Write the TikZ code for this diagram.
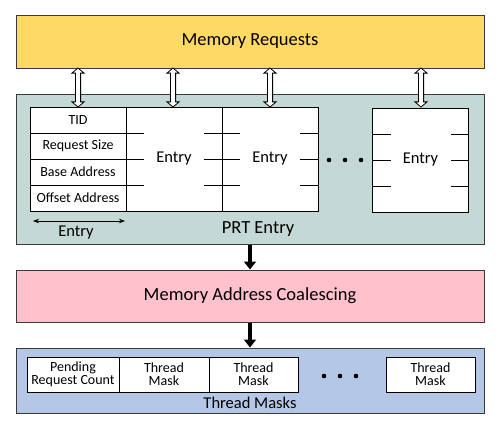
\documentclass[tikz,border=0pt]{standalone}
\usepackage{fontspec}
\setmainfont{Carlito}
\usetikzlibrary{arrows.meta,shapes.arrows}

\definecolor{reqyellow}{HTML}{FFD966}
\definecolor{prtgray}{HTML}{C4D8D6}
\definecolor{coalpink}{HTML}{FFC2CD}
\definecolor{maskblue}{HTML}{B4C7E7}
\definecolor{edge}{HTML}{3A3A3A}

\tikzset{
    blk/.style={draw=edge, line width=1pt, minimum width=468pt, inner sep=0pt},
    cell/.style={draw=black, line width=0.9pt, fill=white, inner sep=0pt},
    bigtxt/.style={font=\fontsize{18.5}{20}\selectfont},
    midtxt/.style={font=\fontsize{16.5}{18}\selectfont},
    smalltxt/.style={font=\fontsize{14}{14}\selectfont, align=center},
    dblarr/.style={double arrow, draw=black, line width=0.8pt, fill=white, rotate=90,
        minimum height=39pt, inner sep=2.2pt,
        double arrow head extend=3.5pt, double arrow tip angle=100},
    thickarr/.style={line width=4pt, -{Triangle[length=8pt,width=12pt]}},
    tick/.style={line width=0.9pt}
}

\begin{document}
\begin{tikzpicture}[x=1pt, y=-1pt]
    \useasboundingbox (0,0) rectangle (500,429);

    % Memory Requests
    \node[blk, fill=reqyellow, minimum height=53pt, bigtxt] (memreq) at (250,41.5) {Memory Requests};

    % PRT
    \node[blk, fill=prtgray, minimum height=150pt] (prt) at (250,169) {};
    \node[bigtxt] (prtlbl) at (258,229) {PRT Entry};

    % fields
    \foreach \y/\t [count=\i] in {120/TID, 146/Request Size, 172/Base Address, 198/Offset Address}
        \node[cell, minimum width=96pt, minimum height=26pt, smalltxt] (f\i) at (78,\y) {\t};
    \draw[line width=0.8pt, {Stealth[length=6pt]}-{Stealth[length=6pt]}] (33,221) -- (125,221);
    \node[midtxt] (flbl) at (76,233) {Entry};

    % entries
    \foreach \n/\x/\y in {1/174/159, 2/270/159, N/420.5/160} {
        \node[cell, minimum width=96pt, minimum height=104pt, midtxt] (ent\n) at (\x,\y) {Entry};
        \foreach \d in {-26,0,26} {
            \draw[tick] (\x-48,\y+\d) -- ++(18,0);
            \draw[tick] (\x+48,\y+\d) -- ++(-18,0);
        }
    }
    \foreach \x in {329,345,361} \fill (\x,160) circle (2.3pt);

    % request arrows
    \foreach \n/\x in {1/78, 2/173, 3/270, 4/421}
        \node[dblarr] (io\n) at (\x,87.5) {};

    % Memory Address Coalescing
    \node[blk, fill=coalpink, minimum height=52pt, bigtxt] (coal) at (250,296) {Memory Address Coalescing};
    \draw[thickarr] (prt.south) -- (coal.north);

    % Thread Masks
    \node[blk, fill=maskblue, minimum height=65pt] (masks) at (250,380.5) {};
    \node[midtxt] (masklbl) at (250,403) {Thread Masks};
    \draw[thickarr] (coal.south) -- (masks.north);

    \node[cell, minimum width=92pt, minimum height=35pt, smalltxt] (cnt) at (73,374.5) {Pending\\[-1pt]Request Count};
    \foreach \n/\x/\w in {1/164/90, 2/253.5/89, N/430.5/89}
        \node[cell, minimum width=\w pt, minimum height=35pt, smalltxt] (tm\n) at (\x,374.5) {Thread\\[-1pt]Mask};
    \foreach \x in {324,340,356} \fill (\x,376) circle (2.3pt);
\end{tikzpicture}
\end{document}
